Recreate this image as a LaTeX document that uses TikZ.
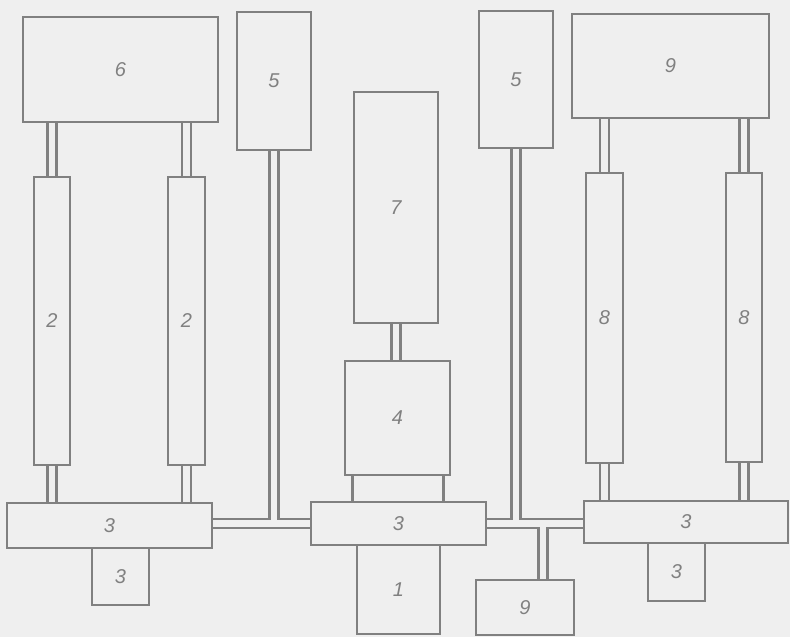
\documentclass[tikz,border=0pt]{standalone}
\usepackage{fontspec}
\setsansfont{Liberation Sans}
\usetikzlibrary{fit,calc,backgrounds}
\definecolor{paper}{RGB}{239,239,239}
\definecolor{ink}{RGB}{128,128,128}
\tikzset{
  box/.style={draw=ink, line width=2.8pt, fill=paper, inner sep=0pt},
  num/.style={inner sep=0pt, font=\sffamily\itshape\fontsize{20}{24}\selectfont, text=ink},
  dbl/.style={draw=ink, line width=2.5pt, double=paper, double distance=6.5pt},
  sgl/.style={draw=ink, line width=2.5pt}
}

\begin{document}
\begin{tikzpicture}[x=1pt,y=-1pt]
    \useasboundingbox (0,0) rectangle (790,637);
    % top row
    \node[box, fit={(23,17) (218,122)}, label={[num]center:6}] (b6) {};
    \node[box, fit={(237,12) (311,150)}, label={[num]center:5}] (b5l) {};
    \node[box, fit={(354,92) (438,323)}, label={[num]center:7}] (b7) {};
    \node[box, fit={(479,11) (553,148)}, label={[num]center:5}] (b5r) {};
    \node[box, fit={(572,14) (769,118)}, label={[num]center:9}] (b9t) {};
    % columns
    \node[box, fit={(34,177) (70,465)}, label={[num]center:2}] (c2a) {};
    \node[box, fit={(168,177) (205,465)}, label={[num]center:2}] (c2b) {};
    \node[box, fit={(586,173) (623,463)}, label={[num]center:8}] (c8a) {};
    \node[box, fit={(726,173) (762,462)}, label={[num]center:8}] (c8b) {};
    \node[box, fit={(345,361) (450,475)}, label={[num]center:4}] (b4) {};
    % bottom row
    \node[box, fit={(7,503) (212,548)}, label={[num]center:3}] (b3l) {};
    \node[box, fit={(92,548) (149,605)}, label={[num]center:3}] (s3l) {};
    \node[box, fit={(311,502) (486,545)}, label={[num]center:3}] (b3c) {};
    \node[box, fit={(357,545) (440,634)}, label={[num]center:1}] (b1) {};
    \node[box, fit={(584,501) (788,543)}, label={[num]center:3}] (b3r) {};
    \node[box, fit={(648,543) (705,601)}, label={[num]center:3}] (s3r) {};
    \node[box, fit={(476,580) (574,635)}, label={[num]center:9}] (b9b) {};
    \coordinate (p4a) at ($(b4.south west)+(9,0)$);
    \coordinate (p4b) at ($(b4.south east)+(-8,0)$);
    \coordinate (j9) at ($(b9b.north)+(18,0)$);

    \begin{scope}[on background layer]
    \fill[paper] (0,0) rectangle (790,637);
    \draw[dbl] (b6.south -| c2a.north) -- (c2a.north);
    \draw[dbl] (b6.south -| c2b.north) -- (c2b.north);
    \draw[dbl] (c2a.south) -- (c2a.south |- b3l.north);
    \draw[dbl] (c2b.south) -- (c2b.south |- b3l.north);
    \draw[dbl] (b9t.south -| c8a.north) -- (c8a.north);
    \draw[dbl] (b9t.south -| c8b.north) -- (c8b.north);
    \draw[dbl] (c8a.south) -- (c8a.south |- b3r.north);
    \draw[dbl] (c8b.south) -- (c8b.south |- b3r.north);
    \draw[dbl] (b7.south) -- (b7.south |- b4.north);
    \draw[sgl] (p4a) -- (p4a |- b3c.north);
    \draw[sgl] (p4b) -- (p4b |- b3c.north);
    % buses
    \draw[dbl] (b3c.west -| b3l.east) -- (b3c.west);
    \draw[dbl] (b3c.east) -- (b3c.east -| b3r.west);
    \draw[dbl] (b5l.south) -- ($(b5l.south |- b3c.west)+(0,-3.25)$);
    \draw[dbl] (b5r.south) -- ($(b5r.south |- b3c.east)+(0,-3.25)$);
    \draw[dbl] (j9) -- ($(j9 |- b3c.east)+(0,3.25)$);
    \end{scope}
\end{tikzpicture}
\end{document}
